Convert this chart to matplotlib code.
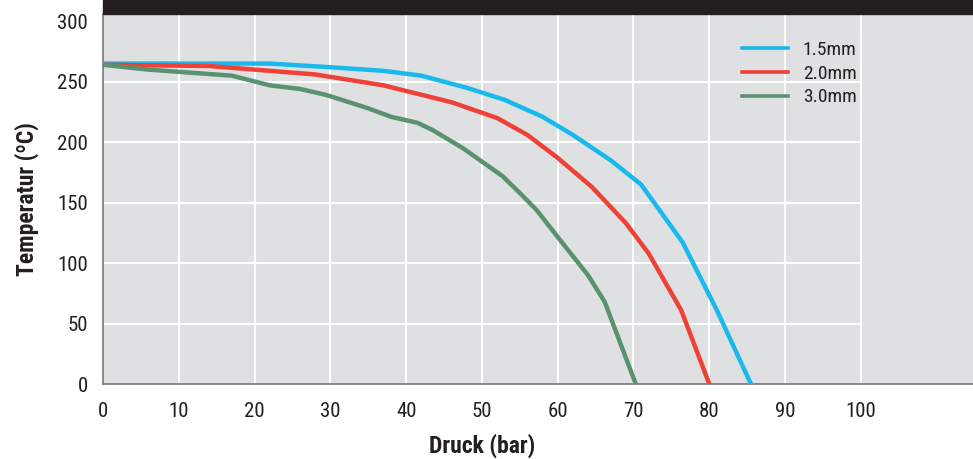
import matplotlib

matplotlib.use("Agg")
import matplotlib.pyplot as plt
from matplotlib import font_manager

# pick a narrow face if one is installed
names = {f.name for f in font_manager.fontManager.ttflist}
FONT = "DejaVu Sans"
for cand in ["Liberation Sans Narrow", "Roboto Condensed", "Open Sans Condensed"]:
    if cand in names:
        FONT = cand
        break
plt.rcParams["font.family"] = [FONT, "DejaVu Sans"]

# data
series_labels = ["1.5mm", "2.0mm", "3.0mm"]
series_colors = ["#19b9ed", "#ef4136", "#5a9170"]

druck_15 = [0, 22, 30, 37, 42, 48, 53, 58, 62, 67, 71, 76.5, 81, 85.5]
temp_15 = [265, 265, 262, 259, 255, 245, 235, 221, 206, 185, 165, 117, 61, 0]

druck_20 = [0, 14, 20, 28, 37, 46, 52, 56, 60, 64.5, 69, 72, 76.3, 80]
temp_20 = [264, 263, 260, 256, 247, 233, 220, 206, 187, 163, 133, 108, 61, 0]

druck_30 = [0, 6, 17, 22, 26, 29.5, 35, 38, 41.5, 43.5, 47.5, 52.7, 55, 57.2, 60.7, 64, 66.2, 70.3]
temp_30 = [264, 260, 255, 247, 244, 239, 228, 221, 216, 210, 195, 172, 158, 144, 116, 90, 68, 0]

x_ticks = [0, 10, 20, 30, 40, 50, 60, 70, 80, 90, 100]
y_ticks = [0, 50, 100, 150, 200, 250, 300]

fig = plt.figure(figsize=(9.73, 4.59), dpi=100)
ax = fig.add_axes([103 / 973, 75 / 459, 870 / 973, 370 / 459])
ax.set_facecolor("#dfe0e2")
ax.set_xlim(0, 114.8)
ax.set_ylim(0, 306)

# white grid only over the 0..100 range
ax.hlines(y_ticks[1:-1], 0, 100, color="white", lw=1.5, zorder=1)
ax.vlines(x_ticks[1:], 0, 306, color="white", lw=1.5, zorder=1)

for xs, ys, lab, col in zip([druck_15, druck_20, druck_30], [temp_15, temp_20, temp_30],
                            series_labels, series_colors):
    ax.plot(xs, ys, color=col, lw=3.2, label=lab, zorder=3, solid_joinstyle="round")

leg = ax.legend(loc="upper left", bbox_to_anchor=(0.714, 0.975), frameon=False,
                handlelength=2.4, handletextpad=0.75, labelspacing=0.3, fontsize=14)
for h in leg.get_lines():
    h.set_linewidth(2.6)
for t in leg.get_texts():
    t.set_color("#231f20")

ax.set_xticks(x_ticks)
ax.set_yticks(y_ticks)
ax.tick_params(length=0, labelsize=15, colors="#231f20")
ax.tick_params(axis="x", pad=13)
ax.tick_params(axis="y", pad=11)
for side in ["top", "right"]:
    ax.spines[side].set_visible(False)
for side in ["left", "bottom"]:
    ax.spines[side].set_color("#777777")
    ax.spines[side].set_linewidth(1.2)

ax.set_xlabel("Druck (bar)", fontsize=17, fontweight="bold", color="#231f20")
ax.xaxis.set_label_coords(50 / 114.8, -0.135)
ax.set_ylabel("Temperatur (ºC)", fontsize=17, fontweight="bold", color="#231f20")
ax.yaxis.set_label_coords(-0.074, 0.5)

# dark header strip above the plot
fig.patches.append(plt.Rectangle((103 / 973, 445 / 459), 870 / 973, 14 / 459,
                                 transform=fig.transFigure, color="#231f20", zorder=0))

fig.savefig("out.png", dpi=100)
